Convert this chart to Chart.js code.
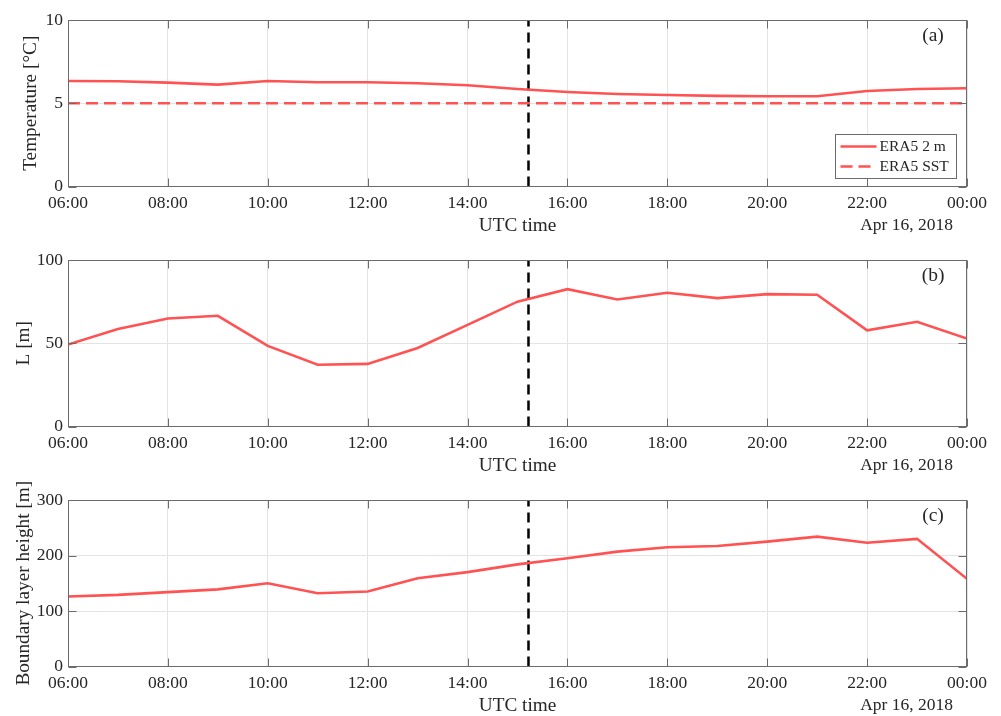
<!DOCTYPE html>
<html>
<head>
<meta charset="utf-8">
<title>ERA5 time series, Apr 15–16, 2018</title>
<script src="https://cdn.jsdelivr.net/npm/chart.js@4.4.1/dist/chart.umd.min.js"></script>
<style>
  html, body { margin: 0; padding: 0; background: #ffffff; overflow: hidden; }
  canvas { position: absolute; left: 0; display: block; }
</style>
</head>
<body>
<canvas id="panelA" width="1001" height="240" style="top:0px"></canvas>
<canvas id="panelB" width="1001" height="240" style="top:240px"></canvas>
<canvas id="panelC" width="1001" height="240" style="top:480px"></canvas>
<script>
// Hourly samples (UTC hour; 24 = 00:00 of the next day)
const hours = [6, 7, 8, 9, 10, 11, 12, 13, 14, 15, 16, 17, 18, 19, 20, 21, 22, 23, 24];

// ERA5 2 m air temperature and sea surface temperature [°C]
const tempAir = [6.34, 6.32, 6.24, 6.12, 6.34, 6.26, 6.26, 6.20, 6.08, 5.86, 5.68, 5.56, 5.50, 5.44, 5.42, 5.42, 5.74, 5.86, 5.90];
const tempSST = [5.0, 5.0, 5.0, 5.0, 5.0, 5.0, 5.0, 5.0, 5.0, 5.0, 5.0, 5.0, 5.0, 5.0, 5.0, 5.0, 5.0, 5.0, 5.0];

// Obukhov length L [m]
const obukhovL = [49.2, 58.6, 64.9, 66.5, 48.4, 37.1, 37.6, 47.2, 61.0, 75.0, 82.5, 76.3, 80.3, 77.1, 79.5, 79.1, 57.8, 62.9, 52.8];

// Boundary layer height [m]
const blHeight = [126, 129, 134, 139, 150, 132, 135, 159, 170, 184, 195, 207, 215, 217, 225, 234, 223, 230, 158];

// Time of the event marked by the vertical dashed line (UTC hour)
const eventHour = 15.22;

// Tick positions and labels
const xTickHours = [6, 8, 10, 12, 14, 16, 18, 20, 22, 24];
const yTicksTemp = [0, 5, 10];
const yTicksL = [0, 50, 100];
const yTicksBLH = [0, 100, 200, 300];
const dateLabel = 'Apr 16, 2018';
const xAxisTitle = 'UTC time';
const panelLetters = ['(a)', '(b)', '(c)'];

const SERIES_RED = 'rgb(255, 82, 82)';
const TEXT_COLOR = '#262626';
const AXIS_COLOR = '#6b6b6b';
const GRID_COLOR = '#e4e4e4';
const FONT = "'Liberation Serif', 'Times New Roman', Times, serif";

Chart.defaults.font.family = FONT;
Chart.defaults.color = TEXT_COLOR;

const pairs = (ys) => hours.map((h, i) => ({ x: h, y: ys[i] }));
const fmtHour = (h) => String(h % 24).padStart(2, '0') + ':00';

// Box around the plot area with short inward tick marks on all four sides
const boxPlugin = {
  id: 'axesBox',
  afterDatasetsDraw(chart) {
    const { ctx, chartArea: a, scales: { x, y } } = chart;
    const L = Math.round(a.left) + 0.5, R = Math.round(a.right) - 0.5;
    const T = Math.round(a.top) + 0.5, B = Math.round(a.bottom) - 0.5;
    const len = 8;
    ctx.save();
    ctx.strokeStyle = AXIS_COLOR;
    ctx.lineWidth = 1;
    ctx.beginPath();
    x.ticks.forEach(t => {
      const px = Math.round(x.getPixelForValue(t.value)) + 0.5;
      ctx.moveTo(px, B); ctx.lineTo(px, B - len);
      ctx.moveTo(px, T); ctx.lineTo(px, T + len);
    });
    y.ticks.forEach(t => {
      const py = Math.round(y.getPixelForValue(t.value)) + 0.5;
      ctx.moveTo(L, py); ctx.lineTo(L + len, py);
      ctx.moveTo(R, py); ctx.lineTo(R - len, py);
    });
    ctx.stroke();
    ctx.strokeRect(L, T, R - L, B - T);
    ctx.restore();
  }
};

// Panel letter, date under the last tick, and the optional boxed legend
const annotPlugin = {
  id: 'panelAnnot',
  afterDraw(chart, args, opts) {
    const { ctx, chartArea: a } = chart;
    ctx.save();
    ctx.fillStyle = TEXT_COLOR;
    ctx.textBaseline = 'middle';
    // panel letter
    ctx.font = `19.5px ${FONT}`;
    ctx.textAlign = 'center';
    ctx.fillText(opts.letter, a.right - 34, a.top + 16);
    // date label
    ctx.font = `17.5px ${FONT}`;
    ctx.textAlign = 'right';
    ctx.fillText(dateLabel, a.right - 14, chart.height - 15);

    if (opts.legend) {
      const items = chart.data.datasets.filter(d => d.label);
      const bx = 835.5, by = 134.5, bw = 121, bh = 44;
      ctx.fillStyle = '#ffffff';
      ctx.fillRect(bx, by, bw, bh);
      ctx.strokeStyle = AXIS_COLOR;
      ctx.lineWidth = 1;
      ctx.strokeRect(bx, by, bw, bh);
      ctx.font = `15.5px ${FONT}`;
      ctx.textAlign = 'left';
      items.forEach((d, i) => {
        const cy = by + 12 + i * 20;
        ctx.strokeStyle = d.borderColor;
        ctx.lineWidth = d.borderWidth;
        ctx.setLineDash(d.borderDash || []);
        ctx.beginPath();
        ctx.moveTo(bx + 5, cy);
        ctx.lineTo(bx + 41, cy);
        ctx.stroke();
        ctx.setLineDash([]);
        ctx.fillStyle = TEXT_COLOR;
        ctx.fillText(d.label, bx + 44, cy);
      });
    }
    ctx.restore();
  }
};

function eventLine(yMin, yMax) {
  return {
    data: [{ x: eventHour, y: yMin }, { x: eventHour, y: yMax }],
    borderColor: '#000000',
    borderWidth: 2.5,
    borderDash: [10, 6],
    pointRadius: 0,
    clip: false
  };
}

function makePanel(id, cfg) {
  const yMin = cfg.yTicks[0], yMax = cfg.yTicks[cfg.yTicks.length - 1];
  return new Chart(document.getElementById(id), {
    type: 'line',
    data: {
      datasets: [...cfg.series.map(s => ({
        label: s.label,
        data: pairs(s.values),
        borderColor: SERIES_RED,
        borderWidth: 2.6,
        borderDash: s.dash || [],
        pointRadius: 0,
        tension: 0
      })), eventLine(yMin, yMax)]
    },
    options: {
      responsive: false,
      animation: false,
      events: [],
      layout: { padding: { top: 20, right: 34, left: 0, bottom: 0 } },
      plugins: {
        legend: { display: false },
        tooltip: { enabled: false },
        panelAnnot: { letter: cfg.letter, legend: !!cfg.legend }
      },
      scales: {
        x: {
          type: 'linear',
          min: 6,
          max: 24,
          afterBuildTicks: s => { s.ticks = xTickHours.map(v => ({ value: v })); },
          afterFit: s => { s.height = 53.5; },
          ticks: {
            callback: v => fmtHour(v),
            font: { size: 17.5 },
            color: TEXT_COLOR,
            padding: 6,
            maxRotation: 0,
            autoSkip: false
          },
          grid: { color: GRID_COLOR, drawTicks: false },
          border: { display: false },
          title: {
            display: true,
            text: xAxisTitle,
            font: { size: 19.25 },
            color: TEXT_COLOR,
            padding: { top: 0, bottom: 2.5 }
          }
        },
        y: {
          type: 'linear',
          min: yMin,
          max: yMax,
          afterBuildTicks: s => { s.ticks = cfg.yTicks.map(v => ({ value: v })); },
          afterFit: s => { s.width = 68; },
          ticks: {
            font: { size: 17.5 },
            color: TEXT_COLOR,
            padding: 5
          },
          grid: { color: GRID_COLOR, drawTicks: false },
          border: { display: false },
          title: {
            display: true,
            text: cfg.yTitle,
            font: { size: 19.25 },
            color: TEXT_COLOR,
            padding: { top: cfg.titlePad, bottom: 0 }
          }
        }
      }
    },
    plugins: [boxPlugin, annotPlugin]
  });
}

makePanel('panelA', {
  letter: panelLetters[0],
  legend: true,
  yTitle: 'Temperature [°C]',
  titlePad: 19.5,
  yTicks: yTicksTemp,
  series: [
    { label: 'ERA5 2 m', values: tempAir },
    { label: 'ERA5 SST', values: tempSST, dash: [12, 6] }
  ]
});

makePanel('panelB', {
  letter: panelLetters[1],
  yTitle: 'L [m]',
  titlePad: 12,
  yTicks: yTicksL,
  series: [{ values: obukhovL }]
});

makePanel('panelC', {
  letter: panelLetters[2],
  yTitle: 'Boundary layer height [m]',
  titlePad: 12,
  yTicks: yTicksBLH,
  series: [{ values: blHeight }]
});
</script>
</body>
</html>
